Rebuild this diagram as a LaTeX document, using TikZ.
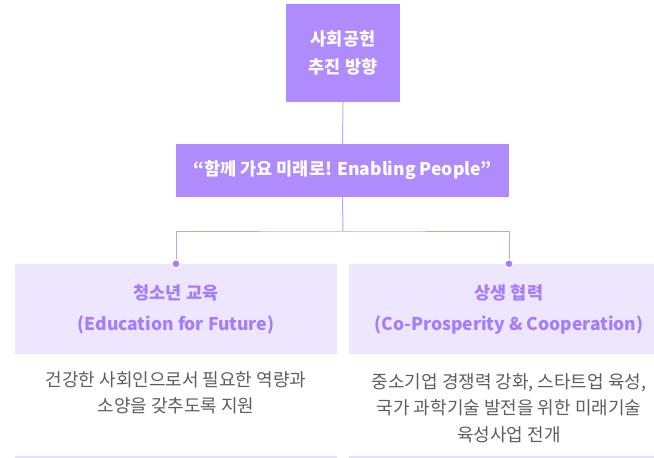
\documentclass[tikz,border=0pt]{standalone}
\usepackage{fontspec}
\setmainfont{Noto Sans CJK KR}
\definecolor{headfill}{HTML}{AF8BFE}
\definecolor{panelfill}{HTML}{EEE6FF}
\definecolor{paneltext}{HTML}{A47DFE}
\definecolor{linkline}{HTML}{C2A8FF}
\definecolor{dotfill}{HTML}{A47DFE}
\definecolor{desctext}{HTML}{5E5E5E}
\definecolor{rulecolor}{HTML}{E8DEFF}
\begin{document}
\begin{tikzpicture}[x=1pt, y=-1pt,
  headbox/.style={fill=headfill, text=white, align=center, inner sep=0pt,
    font=\fontsize{17.5}{28}\selectfont\bfseries},
  panelbox/.style={fill=panelfill, text=paneltext, align=center, inner sep=0pt,
    minimum height=90pt, font=\fontsize{17.5}{31}\selectfont\bfseries},
  desc/.style={text=desctext, align=center, font=\fontsize{18}{26.5}\selectfont},
  linkdot/.style={circle, fill=dotfill, draw=white, line width=1pt, inner sep=0pt, minimum size=8pt}]
  \useasboundingbox (0,0) rectangle (654,458);
  \clip (0,0) rectangle (654,458);
  % heading boxes
  \node[headbox, minimum width=114pt, minimum height=98pt] (head) at (343,53) {사회공헌\\추진 방향};
  \node[headbox, minimum width=333pt, minimum height=53pt] (slogan) at (342.5,170.5) {“함께 가요 미래로! Enabling People”};
  % two fields
  \node[panelbox, minimum width=322pt] (edu) at (176,309) {청소년 교육\\(Education for Future)};
  \node[panelbox, minimum width=320pt] (coop) at (509,309) {상생 협력\\(Co-Prosperity \& Cooperation)};
  \node[desc] (edudesc) at (176,393) {건강한 사회인으로서 필요한 역량과\\소양을 갖추도록 지원};
  \node[desc] (coopdesc) at (509,408) {중소기업 경쟁력 강화, 스타트업 육성,\\국가 과학기술 발전을 위한 미래기술\\육성사업 전개};
  \draw[rulecolor, line width=1.5pt] (edu.west |- 0,457) -- (edu.east |- 0,457);
  \draw[rulecolor, line width=1.5pt] (coop.west |- 0,457) -- (coop.east |- 0,457);
  % connectors
  \coordinate (split) at (343,231);
  \draw[linkline, line width=1pt] (head.south) -- (slogan.north);
  \draw[linkline!80!dotfill, line width=1pt] (slogan.south) -- (split);
  \node[linkdot] (edudot) at (edu.north) {};
  \node[linkdot] (coopdot) at (coop.north) {};
  \draw[linkline!80!dotfill, line width=1pt] (edudot.north) |- (split) -| (coopdot.north);
\end{tikzpicture}
\end{document}
